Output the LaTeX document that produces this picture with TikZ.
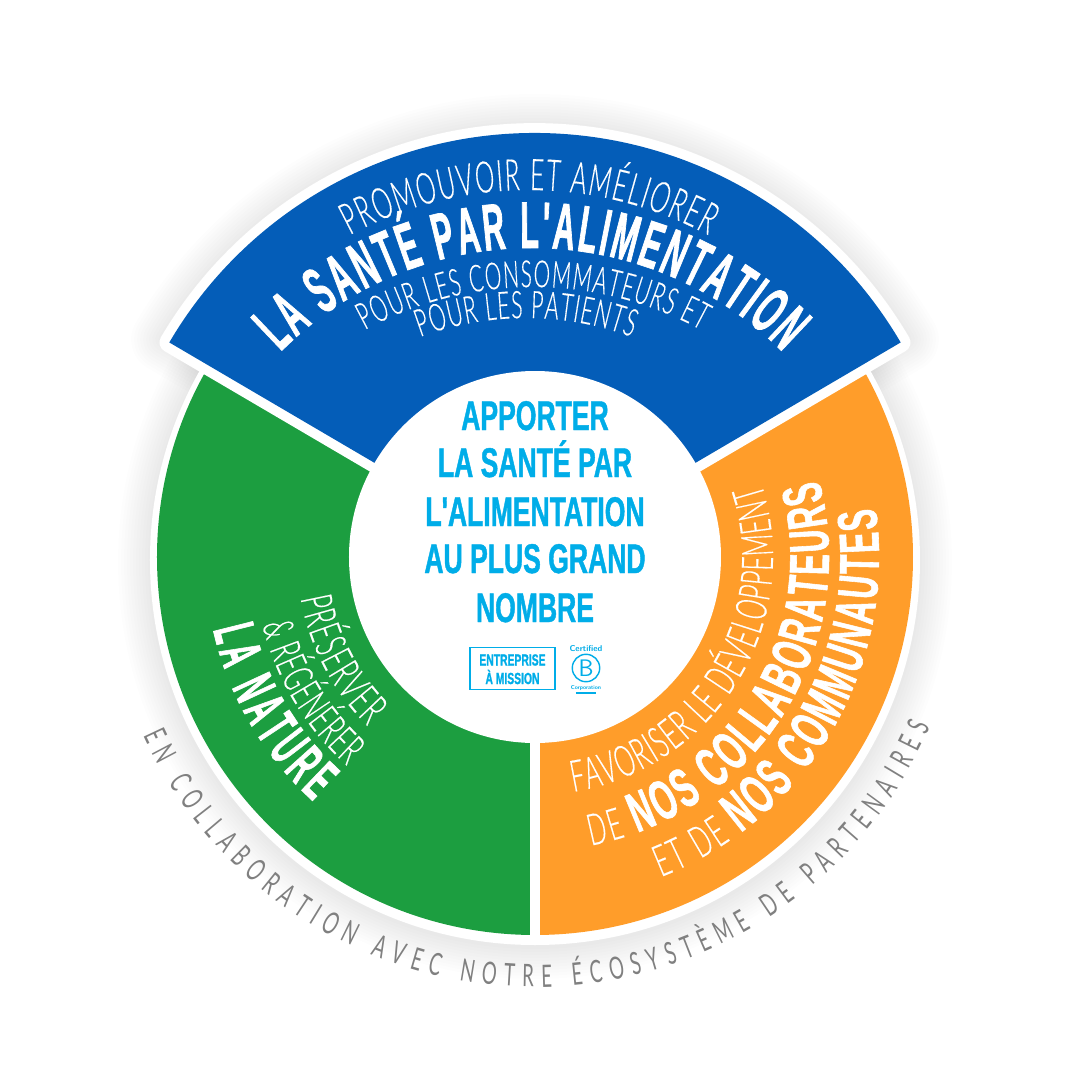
\documentclass[tikz,border=0pt]{standalone}
\usepackage{fontspec}
\usetikzlibrary{decorations.text}
\newfontfamily\lightfont[FakeStretch=0.56,FakeBold=0.3]{Lato Light}
\newfontfamily\heavyfont[FakeStretch=0.46,FakeBold=1]{Liberation Sans Bold}
\newfontfamily\wideheavy[FakeStretch=0.56,FakeBold=1]{Liberation Sans Bold}
\newfontfamily\missionfont[FakeStretch=0.64,FakeBold=1]{Liberation Sans Bold}
\newfontfamily\greyfont[FakeStretch=0.6]{Lato}
\newcommand{\lt}[1]{\color{white}\lightfont\fontsize{#1}{#1}\selectfont}
\newcommand{\hv}[1]{\color{white}\heavyfont\fontsize{#1}{#1}\selectfont}
\newcommand{\wv}[1]{\color{white}\wideheavy\fontsize{#1}{#1}\selectfont}
\definecolor{santeblue}{HTML}{045DB8}
\definecolor{naturegreen}{HTML}{1C9E40}
\definecolor{commorange}{HTML}{FF9D2A}
\definecolor{missioncyan}{HTML}{00ADE8}
\definecolor{partnergrey}{HTML}{808080}
\tikzset{
  along/.style={decorate,decoration={text along path,text align={fit to path},text={#1}}},
  missionline/.style={text=missioncyan,inner sep=0pt,anchor=base,font=\missionfont\fontsize{29.5}{29.5}\selectfont},
  logotext/.style={text=missioncyan,inner sep=0pt}
}
\begin{document}
\begin{tikzpicture}[x=0.025cm,y=0.025cm]
\useasboundingbox (-535,-523) rectangle (545,557);
%shadow
	\foreach \s in {3,6,...,33}{
		\draw[black,opacity=0.0075,line width=\s*1.42pt] (0,-5) circle[radius=384];
		\draw[black,opacity=0.0075,line width=\s*1.42pt,line join=round] (0,0) -- (30.4:430) arc[start angle=30.4,end angle=149.6,radius=430] -- cycle;
	}
%white rim
	\fill[white] (0,-3) circle[radius=385];
%green, orange
	\fill[naturegreen] (0,0) -- (90:378) arc[start angle=90,end angle=270,radius=378] -- cycle;
	\fill[commorange] (0,0) -- (-90:378) arc[start angle=-90,end angle=90,radius=378] -- cycle;
	\draw[white,line width=6.5pt] (0,0) -- (0,-380);
%blue
	\draw[white,line width=14pt,line join=round] (0,0) -- (30.4:424) arc[start angle=30.4,end angle=149.6,radius=424] -- cycle;
	\fill[santeblue] (0,0) -- (30.4:424) arc[start angle=30.4,end angle=149.6,radius=424] -- cycle;
%middle
	\fill[white] (0,0) circle[radius=186];

%blue lines
	\path[along={|\lt{31}|PROMOUVOIR ET AMÉLIORER}] (-6,-11) ++(118.3:378) arc[start angle=118.3,end angle=61.7,radius=378];
	\path[along={|\hv{47}|LA SANTÉ PAR L'ALIMENTATION}] (-3.5,-46) ++(135:355) arc[start angle=135,end angle=45,radius=355];
	\path[along={|\lt{26.5}|POUR LES CONSOMMATEURS ET}] (-2,-80) ++(118.7:350) arc[start angle=118.7,end angle=61.3,radius=350];
	\path[along={|\lt{27}|POUR LES PATIENTS}] (-9,-66) ++(110.3:305) arc[start angle=110.3,end angle=69.7,radius=305];

%orange lines
	\path[along={|\lt{31}|FAVORISER LE DÉVELOPPEMENT}] (-80.7:238) arc[start angle=-80.7,end angle=18,radius=238];
	\path[along={|\lt{31}|DE |\wv{40}|NOS COLLABORATEURS}] (-79:294) arc[start angle=-79,end angle=15.2,radius=294];
	\path[along={|\lt{31}|ET DE |\wv{40}|NOS COMMUNAUTES}] (-68.5:344) arc[start angle=-68.5,end angle=8.2,radius=344];

%green lines
	\path[along={|\lt{31}|PRÉSERVER}] (190:238) arc[start angle=190,end angle=225.3,radius=238];
	\path[along={|\lt{30}|{\&} RÉGÉNÉRER}] (194:281) arc[start angle=194,end angle=228,radius=281];
	\path[along={|\hv{42}|LA NATURE}] (192.7:330) arc[start angle=192.7,end angle=227.8,radius=330];

%grey line
	\path[along={|\color{partnergrey}\greyfont\fontsize{22}{22}\selectfont|EN COLLABORATION AVEC NOTRE ÉCOSYSTÈME DE PARTENAIRES}] (204.5:430) arc[start angle=204.5,end angle=336.7,radius=430];

%mission
	\foreach \n/\y/\t in {m1/127/APPORTER,m2/80/LA SANTÉ PAR,m3/31/L'ALIMENTATION,m4/-16/AU PLUS GRAND,m5/-65/NOMBRE}{
		\node[missionline] (\n) at (0,\y) {\t};
	}

%logos
	\node[draw=missioncyan,line width=1.2pt,minimum width=60pt,minimum height=30pt,inner sep=0pt] (box) at (-22.5,-111.5) {};
	\node[logotext,font=\missionfont\fontsize{11.5}{11.5}\selectfont] (ent) at (-22.5,-103) {ENTREPRISE};
	\node[logotext,font=\missionfont\fontsize{11.5}{11.5}\selectfont] (mis) at (-22.5,-120) {À MISSION};
	\node[draw=missioncyan,circle,line width=1pt,minimum size=19.5pt,inner sep=0pt,text=missioncyan,font=\fontsize{17}{17}\sffamily\selectfont] (bcorp) at (51,-111) {B};
	\node[logotext,font=\sffamily\bfseries\fontsize{6}{6}\selectfont,above=1.5pt] (cert) at (bcorp.north) {Certified};
	\node[logotext,font=\sffamily\bfseries\fontsize{4}{4}\selectfont,below=2pt] (corp) at (bcorp.south) {Corporation};
	\draw[missioncyan,line width=1pt] (bcorp.south west |- corp.south) ++(0,-2) coordinate (la) -- (bcorp.south east |- la);
\end{tikzpicture}
\end{document}
